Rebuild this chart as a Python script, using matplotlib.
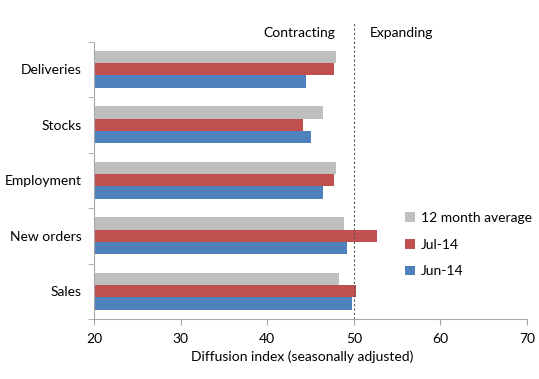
import numpy as np
import matplotlib
matplotlib.use("Agg")
import matplotlib.pyplot as plt

plt.rcParams['font.family'] = ['Lato', 'DejaVu Sans']

categories = ['Deliveries', 'Stocks', 'Employment', 'New orders', 'Sales']
avg12 = [47.9, 46.5, 47.9, 48.9, 48.3]
jul14 = [47.75, 44.1, 47.7, 52.7, 50.25]
jun14 = [44.5, 45.1, 46.4, 49.25, 49.75]

fig = plt.figure(figsize=(5.39, 3.79), dpi=100)
ax = fig.add_axes([0.1744, 0.1583, 0.8033, 0.7322])

y = np.arange(len(categories))
h = 0.222
base = 20
ax.barh(y - h, np.array(avg12) - base, height=h, left=base, color='#BFBFBF', label='12 month average')
ax.barh(y, np.array(jul14) - base, height=h, left=base, color='#C0504D', label='Jul-14')
ax.barh(y + h, np.array(jun14) - base, height=h, left=base, color='#4F81BD', label='Jun-14')

ax.set_xlim(20, 70)
ax.set_ylim(len(categories) - 0.5, -0.5)
ax.set_xticks([20, 30, 40, 50, 60, 70])
ax.set_yticks(y)
ax.set_yticklabels(categories)
ax.set_yticks(np.arange(-0.5, len(categories), 1), minor=True)
ax.tick_params(axis='y', which='major', length=0, labelsize=10, pad=9)
ax.tick_params(axis='y', which='minor', length=4, color='#A6A6A6')
ax.tick_params(axis='x', length=4, color='#A6A6A6', labelsize=10, pad=6)

for s in ['top', 'right']:
    ax.spines[s].set_visible(False)
for s in ['left', 'bottom']:
    ax.spines[s].set_color('#A6A6A6')

ax.axvline(50, ymin=0, ymax=1.07, color='#555555', linestyle=(0, (2, 2)), linewidth=0.8, clip_on=False)

ax.set_xlabel('Diffusion index (seasonally adjusted)', fontsize=10)
ax.xaxis.set_label_coords(0.48, -0.115)

fig.text(299 / 539, 1 - 33 / 379, 'Contracting', ha='center', va='center', fontsize=10)
fig.text(401 / 539, 1 - 33 / 379, 'Expanding', ha='center', va='center', fontsize=10)

ax.legend(loc='upper left', bbox_to_anchor=(0.69, 0.43), frameon=False,
          handlelength=0.7, handleheight=0.7, handletextpad=0.4,
          labelspacing=1.05, fontsize=10)

fig.savefig('out.png', dpi=100)
